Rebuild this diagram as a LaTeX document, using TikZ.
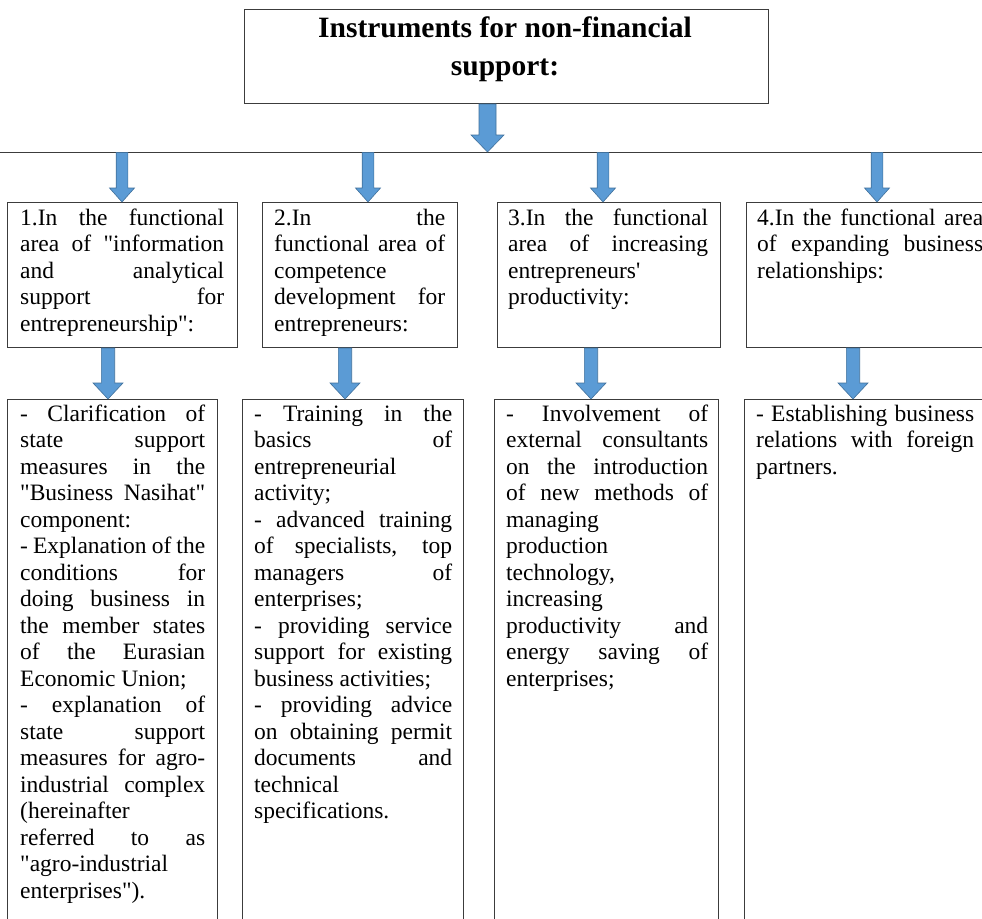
\documentclass[tikz,border=0pt]{standalone}
\usepackage{fontspec}
\setmainfont{Liberation Serif}[Ligatures=TeXOff]
\usetikzlibrary{calc}
\definecolor{arrfill}{RGB}{91,155,213}
\definecolor{arrline}{RGB}{65,113,156}
\definecolor{boxline}{RGB}{60,60,60}
\newcommand\J[1]{\makebox[\linewidth][s]{#1}}
\newcommand\tbox[2]{\parbox[t]{#1}{\fontsize{23.5pt}{26.5pt}\selectfont #2}}
\newcommand\blockarrow[5]{%
  \path[blk] let \p1=(#1), \p2=(#2) in
    (\x1-#3,\y1) -- (\x1+#3,\y1) -- (\x1+#3,\y2+#5) -- (\x1+#4,\y2+#5) --
    (\x1,\y2) -- (\x1-#4,\y2+#5) -- (\x1-#3,\y2+#5) -- cycle;}
\tikzset{
  box/.style={draw=boxline, line width=1pt, fill=white, rectangle, inner sep=0pt, anchor=north west},
  txt/.style={inner sep=0pt, anchor=base west},
  blk/.style={fill=arrfill, draw=arrline, line width=0.6pt},
}
\begin{document}
\begin{tikzpicture}[x=1pt,y=-1pt]
\useasboundingbox (0,0) rectangle (982,918);
\clip (0,0) rectangle (982,918);
\fill[white] (0,0) rectangle (982,918);

% top box
\node[box, minimum width=524pt, minimum height=94pt] (top) at (244,9) {};
\node[anchor=base, inner sep=0pt] (ttl) at (505,37)
  {\parbox[t]{500pt}{\centering\fontsize{29.5pt}{38pt}\selectfont\bfseries Instruments for non-financial\\ support:}};

% horizontal line
\coordinate (hl) at (0,152);
\coordinate (hr) at (982,152);
\draw[boxline, line width=1pt] (hl) -- (hr);

% second row boxes
\node[box, minimum width=230pt, minimum height=145pt] (r2a) at (7,202) {};
\node[box, minimum width=195pt, minimum height=145pt] (r2b) at (262,202) {};
\node[box, minimum width=223pt, minimum height=145pt] (r2c) at (497,202) {};
\node[box, minimum width=260pt, minimum height=145pt] (r2d) at (746,202) {};

% third row boxes
\node[box, minimum width=210pt, minimum height=560pt] (r3a) at (7,399) {};
\node[box, minimum width=221pt, minimum height=560pt] (r3b) at (242,399) {};
\node[box, minimum width=224pt, minimum height=560pt] (r3c) at (494,399) {};
\node[box, minimum width=260pt, minimum height=560pt] (r3d) at (744,399) {};

% second row texts
\node[txt] (t2a) at (20,225) {\tbox{204pt}{%
\J{1.In the functional}\\
\J{area of "information}\\
\J{and analytical}\\
\J{support for}\\
entrepreneurship":}};
\node[txt] (t2b) at (274,225) {\tbox{171pt}{%
\J{2.In the}\\
\J{functional area of}\\
competence\\
\J{development for}\\
entrepreneurs:}};
\node[txt] (t2c) at (508,225) {\tbox{200pt}{%
\J{3.In the functional}\\
\J{area of increasing}\\
entrepreneurs'\\
productivity:}};
\node[txt] (t2d) at (757,225) {\tbox{226pt}{%
\J{4.In the functional area}\\
\J{of expanding business}\\
relationships:}};

% third row texts
\node[txt] (t3a) at (20,421) {\tbox{185pt}{%
\J{- Clarification of}\\
\J{state support}\\
\J{measures in the}\\
\J{"Business Nasihat"}\\
component:\\
\J{- Explanation of the}\\
\J{conditions for}\\
\J{doing business in}\\
\J{the member states}\\
\J{of the Eurasian}\\
Economic Union;\\
\J{- explanation of}\\
\J{state support}\\
\J{measures for agro-}\\
\J{industrial complex}\\
(hereinafter\\
\J{referred to as}\\
"agro-industrial\\
enterprises").}};
\node[txt] (t3b) at (254,421) {\tbox{198pt}{%
\J{- Training in the}\\
\J{basics of}\\
entrepreneurial\\
activity;\\
\J{- advanced training}\\
\J{of specialists, top}\\
\J{managers of}\\
enterprises;\\
\J{- providing service}\\
\J{support for existing}\\
business activities;\\
\J{- providing advice}\\
\J{on obtaining permit}\\
\J{documents and}\\
technical\\
specifications.}};
\node[txt] (t3c) at (506,421) {\tbox{202pt}{%
\J{- Involvement of}\\
\J{external consultants}\\
\J{on the introduction}\\
\J{of new methods of}\\
managing\\
production\\
technology,\\
increasing\\
\J{productivity and}\\
\J{energy saving of}\\
enterprises;}};
\node[txt] (t3d) at (756,421) {\tbox{218pt}{%
\J{- Establishing business}\\
\J{relations with foreign}\\
partners.}};

% arrows: top box to line
\coordinate (a0s) at ($(top.south)+(-19,0)$);
\coordinate (a0e) at (a0s |- hl);
\blockarrow{a0s}{a0e}{8.5pt}{16.5pt}{17pt}

% arrows: line to second row
\coordinate (a1s) at (122,152.5);
\coordinate (a2s) at (368,152.5);
\coordinate (a3s) at (603,152.5);
\coordinate (a4s) at (877,152.5);
\coordinate (a1e) at (a1s |- r2a.north);
\coordinate (a2e) at (a2s |- r2b.north);
\coordinate (a3e) at (a3s |- r2c.north);
\coordinate (a4e) at (a4s |- r2d.north);
\blockarrow{a1s}{a1e}{5.8pt}{12.5pt}{14pt}
\blockarrow{a2s}{a2e}{5.8pt}{12.5pt}{14pt}
\blockarrow{a3s}{a3e}{5.8pt}{12.5pt}{14pt}
\blockarrow{a4s}{a4e}{5.8pt}{12.5pt}{14pt}

% arrows: second row to third row
\coordinate (b1s) at (108,0 |- r2a.south);
\coordinate (b2s) at (345,0 |- r2b.south);
\coordinate (b3s) at (591,0 |- r2c.south);
\coordinate (b4s) at (853,0 |- r2d.south);
\coordinate (b1e) at (b1s |- r3a.north);
\coordinate (b2e) at (b2s |- r3b.north);
\coordinate (b3e) at (b3s |- r3c.north);
\coordinate (b4e) at (b4s |- r3d.north);
\blockarrow{b1s}{b1e}{6.7pt}{15pt}{16pt}
\blockarrow{b2s}{b2e}{6.7pt}{15pt}{16pt}
\blockarrow{b3s}{b3e}{6.7pt}{15pt}{16pt}
\blockarrow{b4s}{b4e}{6.7pt}{15pt}{16pt}
\end{tikzpicture}
\end{document}
